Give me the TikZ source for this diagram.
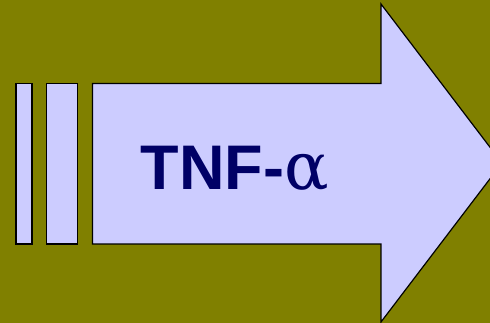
\documentclass[tikz,border=0pt]{standalone}
\usepackage{fontspec}
\setmainfont{Liberation Sans}
\newfontfamily\alphafont{DejaVu Serif}
\usetikzlibrary{positioning}
\definecolor{tnfOlive}{HTML}{808000}
\definecolor{tnfLavender}{HTML}{CCCCFF}
\definecolor{tnfNavy}{HTML}{000066}
\begin{document}
\begin{tikzpicture}[
    x=1pt, y=1pt,
    arrowpart/.style={draw=black, fill=tnfLavender, line width=1.2pt, line join=miter},
    tnflabel/.style={font=\fontsize{63}{63}\selectfont\bfseries, text=tnfNavy, anchor=base, inner sep=0pt},
]
    % Background
    \fill[tnfOlive] (0,0) rectangle (490,323);
    \useasboundingbox (0,0) rectangle (490,323);
    \clip (0,0) rectangle (490,323);

    % Stripes
    \draw[arrowpart] (16,79) rectangle (32,239.5);
    \draw[arrowpart] (46.5,79) rectangle (77.5,239.5);

    % Block arrow
    \draw[arrowpart] (92.5,79) -- (92.5,239.5) -- (381,239.5) -- (381,319)
        -- (502,160) -- (381,1) -- (381,79) -- cycle;

    % Label
    \node[tnflabel] (tnf) at (235,133) {TNF-{\alphafont\mdseries\fontsize{66}{66}\selectfont α}};
\end{tikzpicture}
\end{document}
